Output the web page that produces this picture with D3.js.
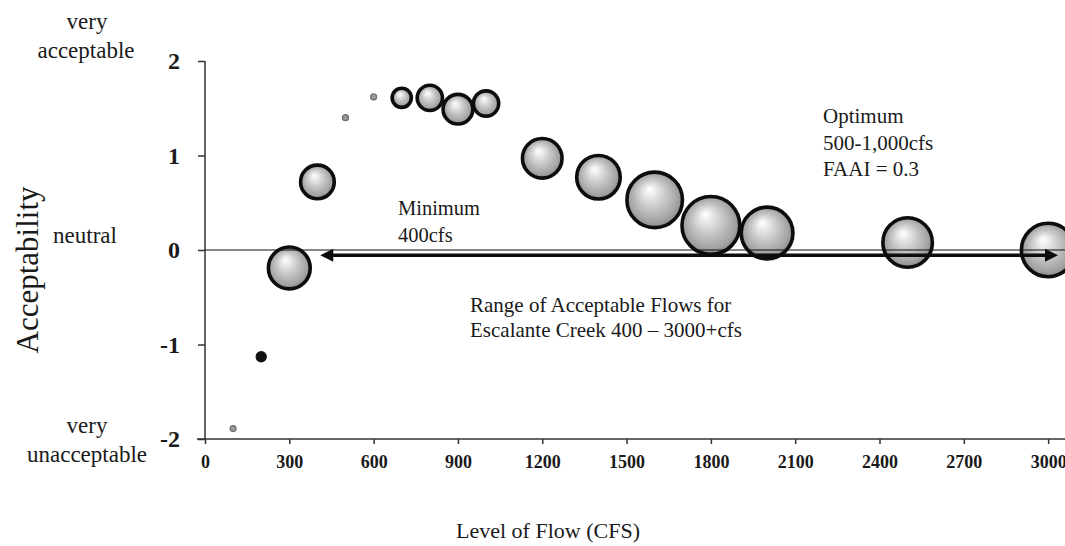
<!DOCTYPE html>
<html>
<head>
<meta charset="utf-8">
<script src="https://cdn.jsdelivr.net/npm/d3@7"></script>
<style>
  html, body { margin: 0; padding: 0; background: #fff; }
  svg { display: block; }
  text { font-family: "Liberation Serif", "Times New Roman", serif; fill: #1a1a1a; }
</style>
</head>
<body>
<svg id="chart" width="1065" height="546"></svg>
<script>
// ---- data ----
const flows = [100, 200, 300, 400, 500, 600, 700, 800, 900, 1000, 1200, 1400, 1600, 1800, 2000, 2500, 3000];
const acceptability = [-1.89, -1.13, -0.19, 0.72, 1.40, 1.62, 1.61, 1.61, 1.49, 1.55, 0.97, 0.77, 0.53, 0.26, 0.18, 0.08, 0.00];
const bubbleSizes = [0.9, 2.6, 52, 35, 0.9, 0.9, 13, 21, 28, 21, 47, 56, 88, 95, 77, 71, 82];
const markerKind = ["dot", "black", "ball", "ball", "dot", "dot", "ball", "ball", "ball", "ball", "ball", "ball", "ball", "ball", "ball", "ball", "ball"];
const xTicks = [0, 300, 600, 900, 1200, 1500, 1800, 2100, 2400, 2700, 3000];
const yTicks = [-2, -1, 0, 1, 2];
const arrowRange = [410, 3035];
const arrowLevel = -0.055;

// ---- layout ----
const svg = d3.select("#chart");
const x = d3.scaleLinear().domain([0, 3060]).range([205, 1065]);
const y = d3.scaleLinear().domain([-2, 2]).range([439, 61]);
const r = d3.scaleSqrt().domain([0, 100]).range([0, 31.5]);

// gradient for balls
const defs = svg.append("defs");
const grad = defs.append("radialGradient").attr("id", "ballGrad")
  .attr("cx", "50%").attr("cy", "50%").attr("r", "55%")
  .attr("fx", "40%").attr("fy", "30%");
[[0, "#ffffff"], [0.12, "#f2f2f2"], [0.45, "#c9c9c9"], [0.8, "#a2a2a2"], [1, "#7c7c7c"]]
  .forEach(([o, c]) => grad.append("stop").attr("offset", o).attr("stop-color", c));

// axes
const yAxis = svg.append("g").attr("transform", `translate(${x(0)},0)`)
  .call(d3.axisLeft(y).tickValues(yTicks).tickSize(7).tickPadding(18).tickFormat(d => String(d)));
yAxis.select(".domain").attr("d", `M0,${y(2)}V${y(-2)}`);
yAxis.selectAll("text").style("font-size", "24px").style("font-weight", "bold")
  .attr("font-family", null).attr("dy", "0.32em");

const xAxis = svg.append("g").attr("transform", `translate(0,${y(-2)})`)
  .call(d3.axisBottom(x).tickValues(xTicks).tickSize(5).tickPadding(11).tickFormat(d => String(d)));
xAxis.select(".domain").attr("d", `M${x(0) - 8},0H1065`);
xAxis.selectAll("text").style("font-size", "18px").style("font-weight", "bold").attr("font-family", null);
svg.selectAll(".domain, .tick line").attr("stroke", "#333").attr("stroke-width", 1.5);

// bubbles
const pts = flows.map((f, i) => ({ f, a: acceptability[i], s: bubbleSizes[i], k: markerKind[i] }));
svg.append("g").selectAll("circle").data(pts).join("circle")
  .attr("cx", d => x(d.f))
  .attr("cy", d => y(d.a))
  .attr("r", d => d.k === "ball" ? r(d.s) - 1.8 : r(d.s))
  .attr("fill", d => d.k === "ball" ? "url(#ballGrad)" : d.k === "black" ? "#111" : "#9a9a9a")
  .attr("stroke", d => d.k === "ball" ? "#0d0d0d" : d.k === "black" ? "#111" : "#6e6e6e")
  .attr("stroke-width", d => d.k === "ball" ? 3.6 : 1.2);

// zero line
svg.append("line").attr("x1", x(0)).attr("x2", 1065).attr("y1", y(0)).attr("y2", y(0))
  .attr("stroke", "#111").attr("stroke-width", 1.2);

// double arrow
const ay = y(arrowLevel), ax1 = x(arrowRange[0]), ax2 = x(arrowRange[1]);
svg.append("line").attr("x1", ax1 + 8).attr("x2", ax2 - 8).attr("y1", ay).attr("y2", ay)
  .attr("stroke", "#0d0d0d").attr("stroke-width", 3.6);
svg.append("path").attr("d", `M${ax1},${ay}L${ax1 + 13},${ay - 6.5}L${ax1 + 13},${ay + 6.5}Z`).attr("fill", "#0d0d0d");
svg.append("path").attr("d", `M${ax2},${ay}L${ax2 - 13},${ay - 6.5}L${ax2 - 13},${ay + 6.5}Z`).attr("fill", "#0d0d0d");

// text helper
function txt(xp, yp, s, size, anchor = "start", extra = {}) {
  const t = svg.append("text").attr("x", xp).attr("y", yp).text(s)
    .style("font-size", size + "px").attr("text-anchor", anchor);
  Object.entries(extra).forEach(([k, v]) => t.attr(k, v));
  return t;
}
// side labels
txt(87, 29, "very", 23, "middle");
txt(86, 58, "acceptable", 23, "middle");
txt(85, 243, "neutral", 23, "middle");
txt(87, 433, "very", 23, "middle");
txt(87, 462, "unacceptable", 23, "middle");
// axis titles
txt(0, 0, "Acceptability", 31, "middle", { transform: "translate(38,270) rotate(-90)" });
txt(548, 538, "Level of Flow (CFS)", 22, "middle");
// annotations
txt(398, 215, "Minimum", 20.5);
txt(398, 242, "400cfs", 20.5);
txt(823, 123, "Optimum", 21);
txt(823, 150, "500-1,000cfs", 21);
txt(823, 176, "FAAI = 0.3", 21);
txt(470, 312, "Range of Acceptable Flows for", 21);
txt(470, 337, "Escalante Creek 400 \u2013 3000+cfs", 21);
</script>
</body>
</html>
